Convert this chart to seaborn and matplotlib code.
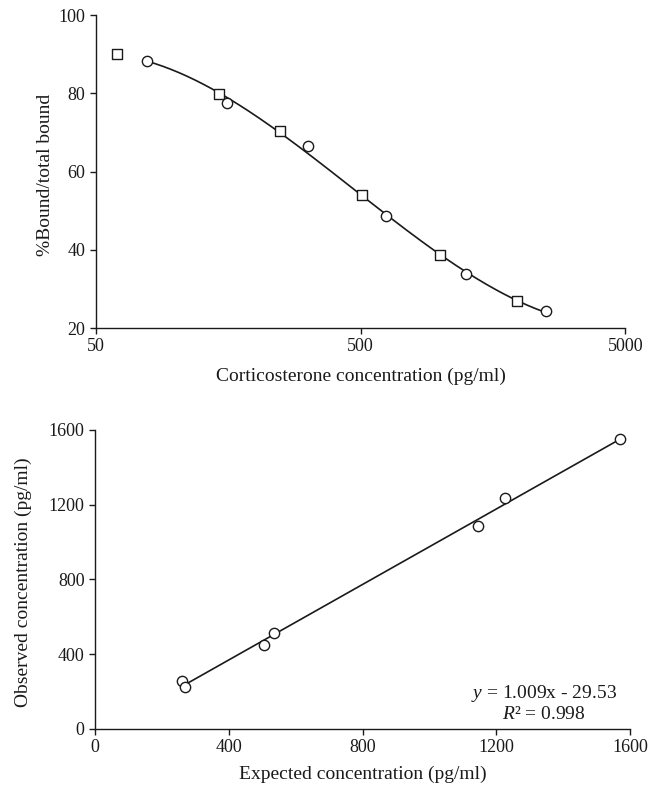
import numpy as np
import pandas as pd
import matplotlib
matplotlib.use("Agg")
import matplotlib.pyplot as plt
import seaborn as sns

# ---- data: top panel (standard curve) ----
square_conc = [60.1, 145.7, 247, 506, 994, 1957]
square_bound = [90.1, 79.9, 70.3, 53.9, 38.6, 27.0]
circle_conc = [77.9, 156, 315, 624, 1252, 2502]
circle_bound = [88.3, 77.4, 66.5, 48.7, 33.8, 24.3]
top_xticks = [50, 500, 5000]
top_yticks = [20, 40, 60, 80, 100]

# ---- data: bottom panel (parallelism / recovery) ----
expected = [260.6, 268, 504.7, 535, 1144.7, 1225.6, 1568.4]
observed = [257.7, 223.7, 449, 515, 1088, 1234.8, 1551.5]
bot_ticks = [0, 400, 800, 1200, 1600]

sns.set_theme(style="ticks")
plt.rcParams["font.family"] = ["Liberation Serif", "DejaVu Serif"]
plt.rcParams["mathtext.fontset"] = "custom"
plt.rcParams["mathtext.rm"] = "Liberation Serif"
plt.rcParams["mathtext.it"] = "Liberation Serif:italic"

ink = "#1a1a1a"
fs = 13
lfs = 14

fig = plt.figure(figsize=(6.59, 7.87), dpi=100)
ax1 = fig.add_axes([0.1457, 0.5832, 0.803, 0.3977])
ax2 = fig.add_axes([0.1442, 0.0737, 0.812, 0.380])

# top panel
sq = pd.DataFrame({"conc": square_conc, "bound": square_bound})
ci = pd.DataFrame({"conc": circle_conc, "bound": circle_bound})
allx = np.log10(np.array(square_conc + circle_conc))
ally = np.array(square_bound + circle_bound)
coef = np.polyfit(allx, ally, 3)
xs = np.linspace(np.log10(min(circle_conc)), np.log10(max(circle_conc)), 200)
fit = pd.DataFrame({"conc": 10 ** xs, "bound": np.polyval(coef, xs)})

ax1.set_xscale("log")
sns.lineplot(data=fit, x="conc", y="bound", ax=ax1, color=ink, lw=1.2)
sns.scatterplot(data=sq, x="conc", y="bound", ax=ax1, marker="s", s=60,
                facecolor="white", edgecolor=ink, linewidth=1.0, zorder=3)
sns.scatterplot(data=ci, x="conc", y="bound", ax=ax1, marker="o", s=55,
                facecolor="white", edgecolor=ink, linewidth=1.0, zorder=3)
ax1.set_xlim(50, 5000)
ax1.set_ylim(20, 100)
ax1.set_xticks(top_xticks)
ax1.set_xticklabels([str(t) for t in top_xticks])
ax1.xaxis.set_minor_locator(matplotlib.ticker.NullLocator())
ax1.set_yticks(top_yticks)
ax1.set_xlabel("Corticosterone concentration (pg/ml)", fontsize=lfs, color=ink, labelpad=9)
ax1.set_ylabel("%Bound/total bound", fontsize=lfs, color=ink)
ax1.yaxis.set_label_coords(-0.079, 0.49)

# bottom panel
df2 = pd.DataFrame({"expected": expected, "observed": observed})
sns.regplot(data=df2, x="expected", y="observed", ax=ax2, ci=None, truncate=True,
            scatter=False, line_kws=dict(color=ink, lw=1.2))
sns.scatterplot(data=df2, x="expected", y="observed", ax=ax2, marker="o", s=55,
                facecolor="white", edgecolor=ink, linewidth=1.0, zorder=3)
ax2.set_xlim(0, 1600)
ax2.set_ylim(0, 1600)
ax2.set_xticks(bot_ticks)
ax2.set_yticks(bot_ticks)
ax2.set_xlabel("Expected concentration (pg/ml)", fontsize=lfs, color=ink, labelpad=6.5)
ax2.set_ylabel("Observed concentration (pg/ml)", fontsize=lfs, color=ink)
ax2.yaxis.set_label_coords(-0.117, 0.49)
ax2.text(1343, 191, r"$y$ = 1.009x - 29.53", ha="center", va="center", fontsize=lfs, color=ink)
ax2.text(1343, 75, r"$R$² = 0.998", ha="center", va="center", fontsize=lfs, color=ink)

for ax in (ax1, ax2):
    sns.despine(ax=ax)
    for s in ("left", "bottom"):
        ax.spines[s].set_color(ink)
        ax.spines[s].set_linewidth(1.0)
    ax.tick_params(axis="both", direction="out", length=4.5, width=1.0, color=ink,
                   labelsize=fs, labelcolor=ink, pad=3)

fig.savefig("out.png", dpi=100, facecolor="white")
